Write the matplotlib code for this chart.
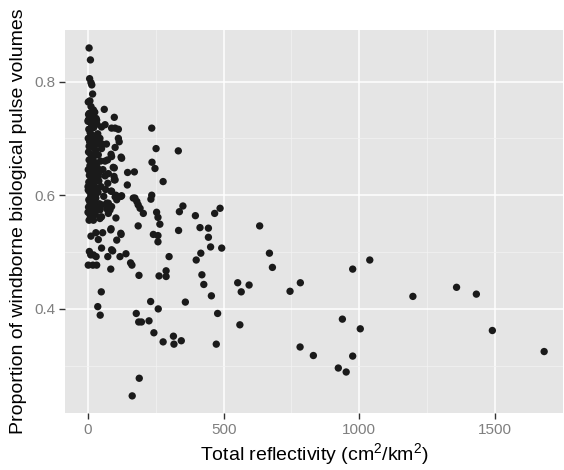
import numpy as np
import matplotlib
matplotlib.use("Agg")
import matplotlib.pyplot as plt
from matplotlib.ticker import MultipleLocator

plt.rcParams['font.family'] = ['Liberation Sans', 'DejaVu Sans']
plt.rcParams['mathtext.fontset'] = 'custom'
plt.rcParams['mathtext.rm'] = 'Liberation Sans'
plt.rcParams['mathtext.default'] = 'regular'

# ---- data ----
tail_x = [1198, 1359, 1432, 1491, 1682, 976, 1039, 938, 1004, 976, 923, 952,
          745, 783, 782, 831, 633, 669, 680, 552, 565, 594, 560,
          487, 467, 493, 478, 473]
tail_y = [0.422, 0.438, 0.426, 0.362, 0.325, 0.470, 0.486, 0.382, 0.365, 0.317, 0.296, 0.289,
          0.431, 0.446, 0.333, 0.318, 0.546, 0.498, 0.473, 0.446, 0.430, 0.442, 0.372,
          0.577, 0.568, 0.507, 0.392, 0.338]

mid_x = [396, 413, 444, 444, 452, 416, 399, 420, 427, 455,
         235, 251, 333, 236, 247, 277, 235, 232, 253, 258, 265, 241, 258, 258, 337, 350, 334,
         299, 262, 288, 288, 188,
         178, 187, 197, 225, 231, 259, 243, 277, 315, 317, 344, 359,
         189, 163, 157, 162,
         146, 171, 145, 173, 185, 192, 180, 167, 204, 185]
mid_y = [0.564, 0.543, 0.542, 0.526, 0.509, 0.498, 0.486, 0.460, 0.443, 0.423,
         0.718, 0.682, 0.678, 0.658, 0.647, 0.624, 0.600, 0.593, 0.570, 0.561, 0.549, 0.531, 0.529, 0.518, 0.571, 0.581, 0.538,
         0.492, 0.458, 0.467, 0.457, 0.459,
         0.392, 0.377, 0.377, 0.379, 0.413, 0.400, 0.358, 0.342, 0.352, 0.338, 0.344, 0.412,
         0.278, 0.247, 0.481, 0.477,
         0.640, 0.641, 0.618, 0.595, 0.583, 0.577, 0.589, 0.595, 0.568, 0.546]

near_x = [49, 36, 45, 84, 73, 118, 140, 91, 50, 87,
          1, 18, 32, 5, 10, 20, 30,
          11, 29, 54, 38, 84, 121, 106, 122, 85,
          20, 44, 103, 50, 44, 69, 75, 81, 87, 50, 38, 20, 7, 75, 69,
          100, 106, 124, 87, 103, 122,
          63, 87, 124, 97, 75, 97, 73, 38, 93, 96, 100, 63, 85,
          85, 122, 100, 50,
          60, 97, 63, 87, 100, 112, 112, 115, 32,
          4, 9, 6, 11, 14, 17, 7, 1, 11, 20, 5, 1, 12]
near_y = [0.430, 0.404, 0.389, 0.470, 0.492, 0.492, 0.497, 0.502, 0.507, 0.504,
          0.477, 0.477, 0.477, 0.501, 0.495, 0.495, 0.492,
          0.528, 0.534, 0.534, 0.522, 0.539, 0.533, 0.521, 0.531, 0.541,
          0.556, 0.559, 0.560, 0.562, 0.574, 0.576, 0.568, 0.574, 0.580, 0.583, 0.577, 0.571, 0.577, 0.586, 0.586,
          0.597, 0.592, 0.599, 0.607, 0.600, 0.598,
          0.660, 0.668, 0.665, 0.648, 0.638, 0.627, 0.621, 0.633, 0.649, 0.633, 0.627, 0.634, 0.607,
          0.672, 0.667, 0.684, 0.682,
          0.751, 0.737, 0.724, 0.718, 0.718, 0.716, 0.700, 0.694, 0.732,
          0.859, 0.838, 0.805, 0.798, 0.794, 0.778, 0.766, 0.764, 0.756, 0.750, 0.744, 0.732, 0.732]

core_x = [2, 5, 9, 14, 3, 8, 18, 24, 1, 6, 12, 20, 28, 2, 10, 16, 4, 22, 31, 7,
          13, 1, 19, 26, 5, 11, 17, 3, 9, 24, 14, 1, 6, 20, 10, 29, 3, 15, 8, 22,
          2, 12, 18, 5, 27, 9, 33, 36, 34, 38, 35, 40, 37, 42, 30, 44, 46, 41, 25, 15,
          30, 0, 21, 11, 16, 4, 26, 13, 23, 8, 32, 0, 18, 27, 13, 6, 24, 0, 14, 4,
          52, 55, 48, 58, 50, 68, 72, 65]
core_y = [0.742, 0.735, 0.728, 0.722, 0.716, 0.710, 0.705, 0.698, 0.700, 0.694,
          0.688, 0.684, 0.679, 0.676, 0.672, 0.666, 0.662, 0.659, 0.655, 0.652,
          0.648, 0.645, 0.641, 0.638, 0.635, 0.631, 0.627, 0.623, 0.619, 0.616,
          0.612, 0.609, 0.606, 0.602, 0.598, 0.595, 0.592, 0.589, 0.585, 0.582,
          0.579, 0.576, 0.572, 0.568, 0.566, 0.562, 0.725, 0.708, 0.690, 0.671,
          0.648, 0.625, 0.605, 0.585, 0.612, 0.700, 0.660, 0.640, 0.746, 0.741,
          0.735, 0.730, 0.719, 0.704, 0.693, 0.686, 0.670, 0.657, 0.650, 0.640,
          0.628, 0.615, 0.620, 0.603, 0.600, 0.590, 0.590, 0.570, 0.563, 0.556,
          0.690, 0.645, 0.615, 0.598, 0.720, 0.690, 0.662, 0.610]

x = np.array(core_x + near_x + mid_x + tail_x, dtype=float)
y = np.array(core_y + near_y + mid_y + tail_y, dtype=float)

x_ticks = [0, 500, 1000, 1500]
y_ticks = [0.4, 0.6, 0.8]

# ---- figure ----
fig = plt.figure(figsize=(5.64, 4.70), dpi=100)
ax = fig.add_axes([65 / 564, 1 - 413 / 470, (563 - 65) / 564, (413 - 30) / 470])
ax.set_facecolor('#E5E5E5')

ax.set_xlim(-84.8, 1751.5)
ax.set_ylim(0.2169, 0.8906)

ax.set_xticks(x_ticks)
ax.set_xticklabels([str(t) for t in x_ticks])
ax.set_yticks(y_ticks)
ax.set_yticklabels([f"{t:.1f}" for t in y_ticks])
ax.xaxis.set_minor_locator(MultipleLocator(250))
ax.yaxis.set_minor_locator(MultipleLocator(0.1))

ax.grid(which='major', color='white', linewidth=1.1)
ax.grid(which='minor', color='#F2F2F2', linewidth=0.55)
ax.set_axisbelow(True)

for s in ax.spines.values():
    s.set_visible(False)

ax.tick_params(which='major', length=4, width=1.0, color='#333333',
               labelcolor='#7F7F7F', labelsize=11, pad=3)
ax.tick_params(which='minor', length=0)

ax.scatter(x, y, s=28, color='#1A1A1A', edgecolors='none', zorder=3)

ax.set_xlabel('Total reflectivity (cm$^2$/km$^2$)', fontsize=14, labelpad=3)
ax.set_ylabel('Proportion of windborne biological pulse volumes', fontsize=14, labelpad=5)

fig.savefig('out.png', dpi=100)
